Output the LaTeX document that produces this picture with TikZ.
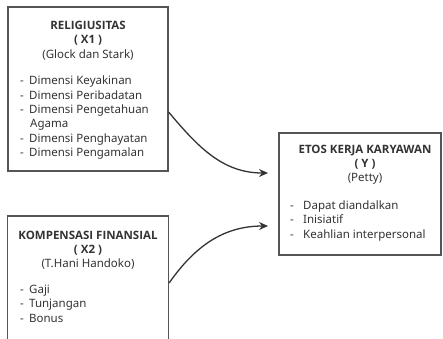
\documentclass[tikz,border=0pt]{standalone}
\usepackage{fontspec}
\setmainfont{Noto Sans}
\newfontfamily\headfont{Open Sans}
\usetikzlibrary{arrows.meta, positioning}

\definecolor{boxgray}{HTML}{555555}
\definecolor{inkgray}{HTML}{333333}
\newcommand{\dashitem}[2][9pt]{\makebox[#1][l]{-}#2}
\newcommand{\headtext}[1]{{\headfont\bfseries #1}}

\begin{document}
\begin{tikzpicture}[
    x=1pt, y=1pt,
    box/.style={rectangle, draw=boxgray, line width=1.2pt},
    head/.style={align=center, inner sep=0pt, anchor=north, text=inkgray, font=\fontsize{11.5}{14.3}\selectfont},
    items/.style={align=left, inner sep=0pt, anchor=north west, text=inkgray, font=\fontsize{11.5}{14.3}\selectfont},
    link/.style={-{Stealth[length=9pt, width=8pt]}, line width=1.3pt, draw=inkgray}
]
    \clip (0,0) rectangle (443,-338);

    % Religiusitas (X1)
    \node[box, minimum width=160pt, minimum height=164pt] (rel) at (88,-89) {};
    \node[head] (relHead) at (88,-21) {\headtext{RELIGIUSITAS}\\\headtext{( X1 )}\\(Glock dan Stark)};
    \node[items] (relList) at (20,-76) {\dashitem{Dimensi Keyakinan}\\\dashitem{Dimensi Peribadatan}\\\dashitem{Dimensi Pengetahuan}\\\makebox[10pt][l]{}Agama\\\dashitem{Dimensi Penghayatan}\\\dashitem{Dimensi Pengamalan}};

    % Kompensasi finansial (X2)
    \node[box, minimum width=161pt, minimum height=140pt] (komp) at (88,-286) {};
    \node[head] (kompHead) at (88,-230.5) {\headtext{KOMPENSASI FINANSIAL}\\\headtext{( X2 )}\\(T.Hani Handoko)};
    \node[items] (kompList) at (20,-285) {\dashitem{Gaji}\\\dashitem{Tunjangan}\\\dashitem{Bonus}};

    % Etos kerja karyawan (Y)
    \node[box, minimum width=162pt, minimum height=122pt] (etos) at (360,-194) {};
    \node[head] (etosHead) at (365,-144.5) {\headtext{ETOS KERJA KARYAWAN}\\\headtext{( Y )}\\(Petty)};
    \node[items] (etosList) at (290,-200.5) {\dashitem[13pt]{Dapat diandalkan}\\\dashitem[13pt]{Inisiatif}\\\dashitem[13pt]{Keahlian interpersonal}};

    % Arrows
    \coordinate (tipA) at (268,-173);
    \coordinate (tipB) at (268,-226);
    \draw[link] ([yshift=-23pt]rel.east) to[out=-50, in=180] (tipA);
    \draw[link] ([yshift=3pt]komp.east) to[out=55, in=180] (tipB);
\end{tikzpicture}
\end{document}
